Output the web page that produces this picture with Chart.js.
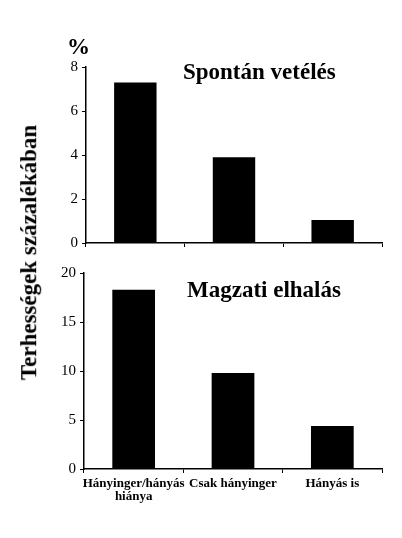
<!DOCTYPE html>
<html>
<head>
<meta charset="utf-8">
<script src="https://cdn.jsdelivr.net/npm/chart.js@4/dist/chart.umd.min.js"></script>
<style>
  html, body { margin: 0; padding: 0; background: #fff; }
  #wrap { position: relative; width: 402px; height: 538px; overflow: hidden; font-family: "Liberation Serif", "Times New Roman", serif; }
  canvas { position: absolute; left: 0; }
  .txt { position: absolute; font-weight: bold; color: #000; white-space: nowrap; line-height: 1; }
</style>
</head>
<body>
<div id="wrap">
  <canvas id="topChart" width="402" height="256" style="top:0"></canvas>
  <canvas id="bottomChart" width="402" height="282" style="top:256px"></canvas>
  <div class="txt" style="left:67px; top:35px; font-size:23px;">%</div>
  <div class="txt" style="left:183px; top:60px; font-size:23px;">Spontán vetélés</div>
  <div class="txt" style="left:187px; top:278px; font-size:23px;">Magzati elhalás</div>
  <div class="txt" id="ytitle" style="font-size:23px;">Terhességek százalékában</div>
</div>
<script>
const categories = [['Hányinger/hányás', 'hiánya'], 'Csak hányinger', 'Hányás is'];
const miscarriageValues = [7.3, 3.9, 1.05];
const fetalDeathValues = [18.3, 9.8, 4.4];
const topTicks = [0, 2, 4, 6, 8];
const bottomTicks = [0, 5, 10, 15, 20];

const serif = '"Liberation Serif", "Times New Roman", serif';

// rotated y title, centred on the left
let yt = document.getElementById('ytitle');
yt.style.left = (28 - yt.offsetWidth / 2) + 'px';
yt.style.top = (252 - yt.offsetHeight / 2) + 'px';
yt.style.transform = 'rotate(-90deg)';

function makeChart(id, values, tickValues, axisLeft, padTop, xHeight, showLabels) {
    return new Chart(document.getElementById(id).getContext('2d'), {
        type: 'bar',
        data: {
            labels: categories,
            datasets: [{
                data: values,
                backgroundColor: '#000',
                borderWidth: 0,
                categoryPercentage: 1,
                barPercentage: 0.43
            }]
        },
        options: {
            responsive: false,
            animation: false,
            layout: { padding: { left: 0, right: 20, top: padTop, bottom: 0 } },
            plugins: { legend: { display: false }, tooltip: { enabled: false } },
            scales: {
                x: {
                    grid: { drawOnChartArea: false, drawTicks: true, tickLength: 4, color: '#000', offset: true },
                    border: { color: '#000', width: 1.5 },
                    ticks: {
                        display: showLabels,
                        autoSkip: false,
                        maxRotation: 0,
                        padding: 4,
                        color: '#000',
                        font: { family: serif, size: 13, weight: 'bold', lineHeight: 1.0 }
                    },
                    afterFit: function (scale) { scale.height = xHeight; }
                },
                y: {
                    min: tickValues[0],
                    max: tickValues[tickValues.length - 1],
                    grid: { drawOnChartArea: false, drawTicks: true, tickLength: 4, color: '#000' },
                    border: { color: '#000', width: 1.5 },
                    ticks: {
                        color: '#000',
                        padding: 4,
                        font: { family: serif, size: 15 }
                    },
                    afterBuildTicks: function (scale) {
                        scale.ticks = tickValues.map(v => ({ value: v }));
                    },
                    afterFit: function (scale) { scale.width = axisLeft; }
                }
            }
        }
    });
}

makeChart('topChart', miscarriageValues, topTicks, 86, 67, 9, false);
makeChart('bottomChart', fetalDeathValues, bottomTicks, 84, 17, 69, true);
</script>
</body>
</html>
